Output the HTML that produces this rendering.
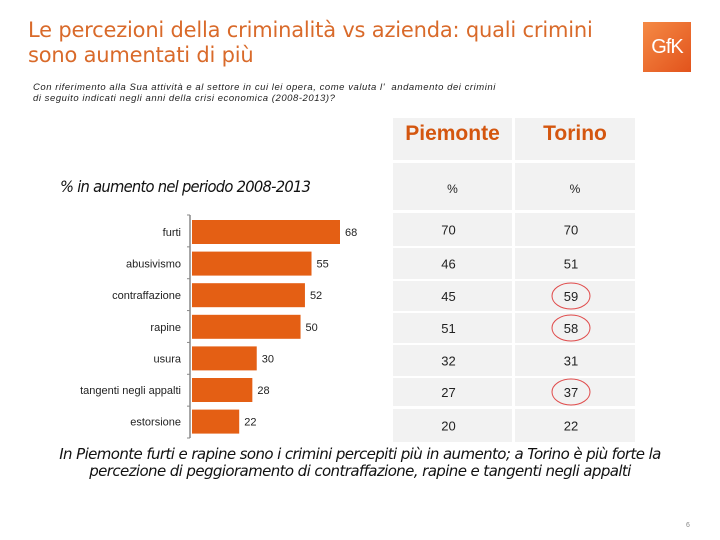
<!DOCTYPE html>
<html><head><meta charset="utf-8"><style>
body{margin:0;width:720px;height:540px;background:#fff;position:relative;overflow:hidden;font-family:"Liberation Sans",sans-serif}
.a{position:absolute}
#title{left:28px;top:18px;font-size:21px;line-height:25px;color:#d96a2a;font-family:"DejaVu Sans","Liberation Sans",sans-serif;letter-spacing:-0.2px}
#q{left:33px;top:82px;font-size:9.5px;line-height:11px;font-style:italic;color:#222;letter-spacing:0.55px}
#logo{left:643px;top:22px;width:48px;height:50px;background:linear-gradient(135deg,#f58a45,#e2531c);color:#fff;font-size:20px;text-align:center;line-height:50px;letter-spacing:-1px}
#sub{left:60px;top:177px;font-size:16px;font-style:italic;color:#111;font-family:"DejaVu Sans",sans-serif;letter-spacing:-0.8px;transform:scaleX(0.92);transform-origin:left}
#concl{left:20px;top:446px;width:680px;text-align:center;font-size:15px;line-height:17px;font-style:italic;color:#111;font-family:"DejaVu Sans",sans-serif;letter-spacing:-0.6px}
#pg{left:686px;top:522px;font-size:7px;color:#888}
</style></head><body>
<div id="title" class="a">Le percezioni della criminalità vs azienda: quali crimini<br>sono aumentati di più</div>
<div id="logo" class="a">GfK</div>
<div id="q" class="a">Con riferimento alla Sua attività e al settore in cui lei opera, come valuta l'&nbsp; andamento dei crimini<br>di seguito indicati negli anni della crisi economica (2008-2013)?</div>
<div id="sub" class="a">% in aumento nel periodo 2008-2013</div>
<svg id="chart" class="a" style="left:0;top:0" width="720" height="540"></svg>
<div id="concl" class="a">In Piemonte furti e rapine sono i crimini percepiti più in aumento; a Torino è più forte la<br>percezione di peggioramento di contraffazione, rapine e tangenti negli appalti</div>
<div id="pg" class="a">6</div>
<script>
const categories=["furti","abusivismo","contraffazione","rapine","usura","tangenti negli appalti","estorsione"];
const values=[68,55,52,50,30,28,22];
const piemonte=[70,46,45,51,32,27,20];
const torino=[70,51,59,58,31,37,22];
const circled=[false,false,true,true,false,true,false];
const NS="http://www.w3.org/2000/svg";
const svg=document.getElementById('chart');
function mk(t,a){const e=document.createElementNS(NS,t);for(const k in a)e.setAttribute(k,a[k]);svg.appendChild(e);return e;}
const x0=191,xs=149/68;
function xp(v){return x0+v*xs;}
function yb(i){return 220+i*31.6;}
const colX=[393,515],colW=[119,120];
const hdr=["Piemonte","Torino"];
for(let c=0;c<2;c++){
 let r=mk('rect',{x:colX[c],y:118,width:colW[c],height:42,fill:'#f2f2f2'});
 
 let t=mk('text',{x:colX[c]+colW[c]/2,y:140,'text-anchor':'middle','font-size':21,'font-weight':'bold',fill:'#d4560f','font-family':'Liberation Sans, sans-serif'});t.textContent=hdr[c];
 
 r=mk('rect',{x:colX[c],y:163,width:colW[c],height:47,fill:'#f2f2f2'});
 
 t=mk('text',{x:colX[c]+colW[c]/2,y:193,'text-anchor':'middle','font-size':12,fill:'#222'});t.textContent='%';
 
}
const rowTop=[213,248,281,313,345,378,409],rowBot=[246,279,311,343,376,406,442];
for(let i=0;i<categories.length;i++){
 const vals=[piemonte[i],torino[i]];
 for(let c=0;c<2;c++){
  const r=mk('rect',{x:colX[c],y:rowTop[i],width:colW[c],height:rowBot[i]-rowTop[i],fill:'#f2f2f2'});
  
  const cy=(rowTop[i]+rowBot[i])/2;
  const t=mk('text',{x:colX[c]+colW[c]/2-4,y:cy+5,'text-anchor':'middle','font-size':13,fill:'#222'});t.textContent=vals[c];
  
  if(c==1&&circled[i]){const e=mk('ellipse',{cx:colX[c]+colW[c]/2-4,cy:cy,rx:19,ry:13,fill:'none',stroke:'#e04a4a','stroke-width':1});
   }
 }
}
let ax=mk('line',{x1:x0-1,y1:215,x2:x0-1,y2:438,stroke:'#888','stroke-width':1.5});

for(let i=0;i<=categories.length;i++){const y=215+i*(223/7);mk('line',{x1:x0-4,y1:y,x2:x0-1,y2:y,stroke:'#888'});}
for(let i=0;i<categories.length;i++){
 const y=yb(i);
 const b=mk('rect',{x:x0+1,y:y,width:xp(values[i])-x0-1,height:24,fill:'#e45f14'});
 
 const l=mk('text',{x:x0-10,y:y+16,'text-anchor':'end','font-size':11,fill:'#222'});l.textContent=categories[i];
 
 const v=mk('text',{x:xp(values[i])+5,y:y+16,'font-size':11,fill:'#222'});v.textContent=values[i];
 
}
</script>
</body></html>
